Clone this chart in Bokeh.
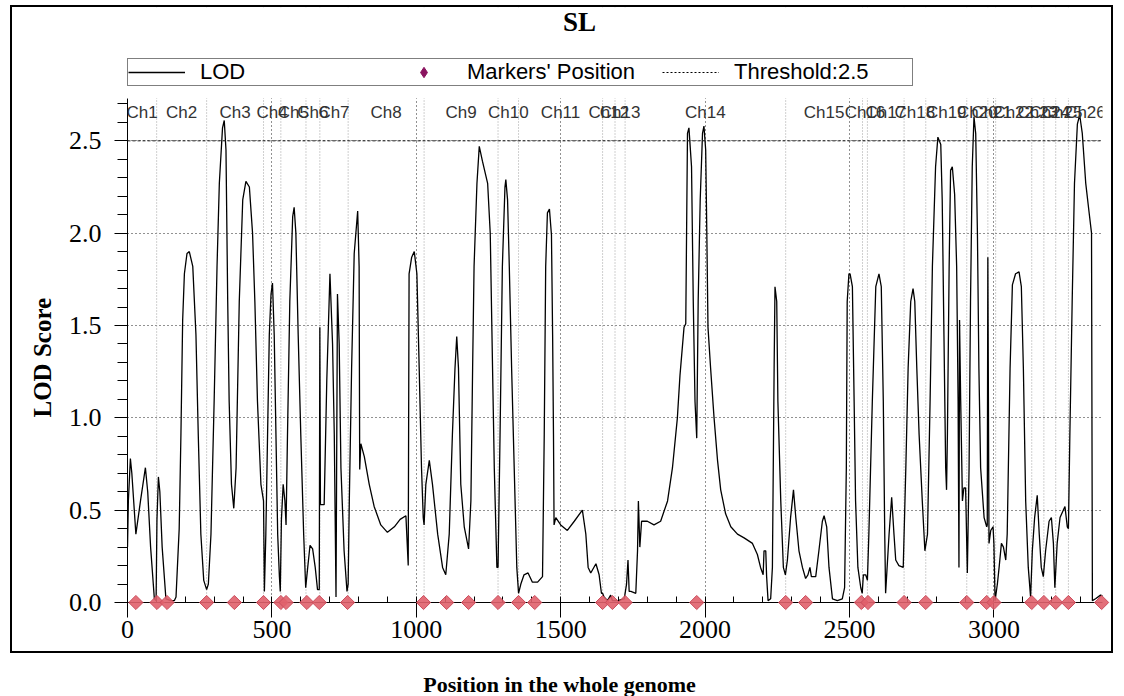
import math
from bokeh.plotting import figure
from bokeh.layouts import column
from bokeh.core.properties import value
from bokeh.models import (Span, Label, LabelSet, ColumnDataSource, Legend, BoxAnnotation, Title,
                          LegendItem, SingleIntervalTicker, PrintfTickFormatter, Range1d)
from bokeh.embed import file_html
from bokeh.resources import INLINE

# ---------------- data ----------------
lod_pos = [0, 3, 10, 15, 29, 45, 62, 70, 80, 93, 99, 102, 107, 112, 120, 133, 150, 162, 168, 179,
           185, 191, 197, 206, 214, 226, 237, 245, 254, 264, 274, 280, 289, 300, 310, 318, 329, 335,
           341, 347, 352, 360, 368, 376, 387, 399, 410, 422, 433, 441, 450, 462, 471, 474, 479, 485,
           491, 497, 502, 508, 514, 520, 526, 529, 533, 539, 545, 549, 554, 562, 572, 577, 583, 591,
           600, 610, 617, 624, 632, 641, 650, 658, 664, 666, 668, 681, 690, 701, 710, 716, 722, 727,
           733, 739, 750, 760, 764, 768, 776, 785, 797, 802, 804, 808, 820, 837, 854, 877, 900, 924,
           944, 964, 972, 975, 984, 993, 1002, 1010, 1018, 1024, 1027, 1033, 1045, 1056, 1074, 1091,
           1102, 1114, 1125, 1134, 1140, 1146, 1154, 1166, 1181, 1189, 1195, 1200, 1210, 1218, 1229,
           1247, 1256, 1264, 1270, 1279, 1283, 1290, 1298, 1307, 1310, 1316, 1322, 1330, 1339, 1348,
           1354, 1362, 1373, 1387, 1402, 1420, 1437, 1443, 1448, 1454, 1461, 1468, 1472, 1475, 1477,
           1483, 1500, 1523, 1547, 1575, 1587, 1595, 1604, 1622, 1633, 1641, 1645, 1650, 1662, 1673,
           1679, 1697, 1720, 1728, 1733, 1737, 1743, 1760, 1766, 1769, 1774, 1780, 1800, 1823, 1846,
           1870, 1887, 1904, 1913, 1927, 1933, 1939, 1944, 1953, 1959, 1965, 1971, 1976, 1983, 1991,
           1996, 2002, 2006, 2010, 2019, 2031, 2043, 2054, 2071, 2089, 2112, 2135, 2164, 2181, 2192,
           2201, 2204, 2210, 2213, 2218, 2227, 2233, 2239, 2242, 2248, 2252, 2262, 2271, 2278, 2285,
           2296, 2306, 2314, 2325, 2337, 2348, 2356, 2363, 2368, 2383, 2394, 2406, 2412, 2421, 2429,
           2441, 2458, 2475, 2483, 2489, 2492, 2498, 2502, 2510, 2516, 2521, 2529, 2539, 2544, 2548,
           2556, 2562, 2567, 2579, 2591, 2602, 2610, 2617, 2622, 2625, 2637, 2646, 2654, 2660, 2671,
           2686, 2695, 2703, 2712, 2720, 2726, 2733, 2741, 2752, 2761, 2770, 2779, 2787, 2798, 2806,
           2816, 2821, 2827, 2833, 2836, 2839, 2845, 2850, 2856, 2864, 2871, 2876, 2879, 2881, 2885,
           2891, 2896, 2902, 2908, 2914, 2919, 2925, 2931, 2937, 2943, 2948, 2954, 2966, 2975, 2977,
           2979, 2983, 2989, 2997, 3000, 3004, 3012, 3018, 3026, 3033, 3041, 3046, 3056, 3064, 3075,
           3087, 3095, 3102, 3110, 3119, 3127, 3133, 3141, 3150, 3157, 3164, 3171, 3179, 3191, 3199,
           3206, 3211, 3219, 3229, 3246, 3254, 3258, 3263, 3271, 3279, 3289, 3297, 3306, 3318, 3329,
           3338, 3341, 3352, 3369, 3387]
lod_val = [0.30, 0.55, 0.78, 0.70, 0.37, 0.55, 0.73, 0.60, 0.30, 0.02, 0.01, 0.45, 0.68, 0.60, 0.30,
           0.02, 0.01, 0.01, 0.03, 0.40, 0.91, 1.53, 1.78, 1.89, 1.90, 1.82, 1.45, 0.91, 0.37, 0.12,
           0.07, 0.10, 0.37, 1.09, 1.82, 2.27, 2.57, 2.61, 2.45, 1.63, 1.09, 0.64, 0.51, 0.73, 1.63,
           2.18, 2.28, 2.25, 2.00, 1.63, 1.09, 0.64, 0.55, 0.06, 0.37, 0.91, 1.45, 1.67, 1.73, 1.45,
           0.91, 0.37, 0.14, 0.06, 0.45, 0.64, 0.55, 0.42, 0.91, 1.63, 2.09, 2.14, 2.00, 1.45, 0.91,
           0.37, 0.08, 0.19, 0.31, 0.29, 0.19, 0.07, 0.07, 1.49, 0.53, 0.53, 1.20, 1.78, 1.40, 0.91,
           0.03, 1.67, 1.40, 0.73, 0.28, 0.06, 0.10, 0.55, 1.27, 1.89, 2.12, 1.82, 0.72, 0.86, 0.79,
           0.64, 0.52, 0.42, 0.38, 0.41, 0.45, 0.47, 0.20, 1.78, 1.87, 1.90, 1.78, 1.27, 0.73, 0.46,
           0.42, 0.64, 0.77, 0.64, 0.37, 0.19, 0.15, 0.37, 0.91, 1.27, 1.44, 1.27, 0.64, 0.41, 0.29,
           0.55, 1.27, 1.82, 2.27, 2.47, 2.39, 2.27, 2.00, 1.27, 0.73, 0.19, 0.19, 0.91, 1.82, 2.25,
           2.29, 2.18, 1.82, 1.27, 0.73, 0.19, 0.05, 0.10, 0.15, 0.16, 0.11, 0.11, 0.14, 0.91, 1.82,
           2.11, 2.13, 1.99, 1.45, 0.91, 0.42, 0.46, 0.42, 0.39, 0.44, 0.50, 0.37, 0.19, 0.16, 0.21,
           0.15, 0.05, 0.05, 0.03, 0.01, 0.04, 0.01, 0.01, 0.02, 0.10, 0.23, 0.06, 0.06, 0.05, 0.28,
           0.55, 0.30, 0.44, 0.44, 0.42, 0.44, 0.55, 0.73, 1.00, 1.23, 1.49, 1.51, 2.54, 2.57, 2.36,
           1.63, 1.09, 0.89, 1.63, 2.18, 2.54, 2.58, 2.45, 1.99, 1.49, 1.27, 1.00, 0.77, 0.61, 0.48,
           0.41, 0.37, 0.35, 0.32, 0.26, 0.19, 0.15, 0.28, 0.28, 0.14, 0.01, 0.02, 0.19, 1.27, 1.71,
           1.63, 1.09, 0.55, 0.19, 0.15, 0.23, 0.46, 0.61, 0.46, 0.28, 0.19, 0.13, 0.15, 0.19, 0.14,
           0.14, 0.28, 0.44, 0.47, 0.41, 0.19, 0.02, 0.01, 0.02, 0.08, 0.73, 1.63, 1.78, 1.78, 1.71,
           1.09, 0.55, 0.19, 0.08, 0.05, 0.15, 0.15, 0.12, 0.37, 1.09, 1.71, 1.78, 1.71, 1.09, 0.37,
           0.05, 0.37, 0.57, 0.37, 0.23, 0.20, 0.19, 0.73, 1.27, 1.63, 1.70, 1.63, 1.27, 0.91, 0.55,
           0.28, 0.37, 1.09, 1.82, 2.36, 2.52, 2.48, 2.18, 1.45, 0.73, 0.61, 0.91, 1.82, 2.34, 2.36,
           2.21, 1.82, 1.09, 0.19, 1.53, 1.09, 0.55, 0.62, 0.62, 0.16, 0.73, 1.63, 2.36, 2.63, 2.54,
           1.99, 1.27, 0.73, 0.46, 0.41, 0.42, 1.87, 0.32, 0.39, 0.41, 0.32, 0.01, 0.10, 0.19, 0.32,
           0.30, 0.23, 0.37, 1.27, 1.72, 1.78, 1.79, 1.71, 1.27, 0.55, 0.19, 0.03, 0.28, 0.46, 0.58,
           0.37, 0.19, 0.14, 0.28, 0.44, 0.46, 0.32, 0.08, 0.32, 0.46, 0.52, 0.41, 0.40, 0.91, 1.63,
           2.27, 2.59, 2.64, 2.54, 2.27, 2.12, 2.00, 0.01, 0.02, 0.04, 0.03]

marker_pos = [29, 102, 137, 274, 370, 471, 531, 549, 621, 664, 762,
              1025, 1105, 1181, 1283, 1354, 1410, 1645, 1679, 1723,
              1971, 2279, 2348, 2541, 2564,
              2689, 2764, 2906, 2975, 3000, 3131, 3173, 3214, 3258, 3373]

chrom_names = ["Ch1", "Ch2", "Ch3", "Ch4", "Ch5", "Ch6", "Ch7", "Ch8", "Ch9", "Ch10", "Ch11",
               "Ch12", "Ch13", "Ch14", "Ch15", "Ch16", "Ch17", "Ch18", "Ch19", "Ch20", "Ch21",
               "Ch22", "Ch23", "Ch24", "Ch25", "Ch26"]
chrom_bounds = [0, 101, 274, 471, 531, 618, 666, 764, 1027, 1283, 1354, 1645, 1688, 1723, 2279,
                2545, 2562, 2689, 2764, 2906, 2979, 3006, 3131, 3173, 3214, 3258, 3376]

threshold = 2.5
x_tick_step = 500
y_tick_step = 0.5
y_plot_top = 2.73      # top of the plotting area
y_canvas_top = 3.222   # top of the boxed panel (title and legend live above y_plot_top)
nan = float("nan")

# ---------------- main (boxed) figure ----------------
p = figure(width=1099, height=644, title=None, output_backend="svg", toolbar_location=None,
           x_range=Range1d(0, chrom_bounds[-1]), y_range=Range1d(0, y_canvas_top),
           min_border_left=115, min_border_right=13, min_border_top=0, min_border_bottom=53)
p.margin = (5, 0, 0, 10)
p.styles = {"border": "2px solid black", "box-sizing": "content-box"}
p.background_fill_color = "white"
p.border_fill_color = "white"
p.outline_line_color = None

xt = SingleIntervalTicker(interval=x_tick_step, num_minor_ticks=5)
yt = SingleIntervalTicker(interval=y_tick_step, num_minor_ticks=5)
xax = p.xaxis[0]
yax = p.yaxis[0]
xax.ticker = xt
yax.ticker = yt
p.xgrid.ticker = xt
p.ygrid.ticker = yt
p.grid.grid_line_color = "#222222"
p.grid.grid_line_dash = "1 3"
p.grid.grid_line_width = 1

xax.axis_line_color = "black"
xax.major_tick_line_color = "black"
xax.minor_tick_line_color = "black"
xax.major_tick_in = 4
xax.major_tick_out = 15
xax.minor_tick_in = 6
xax.minor_tick_out = 0
xax.major_label_standoff = 3
xax.major_label_text_font = "Liberation Serif"
xax.major_label_text_font_size = "26px"
xax.major_label_text_color = "black"

yax.bounds = (0, y_plot_top)
yax.formatter = PrintfTickFormatter(format="%.1f")
yax.axis_line_color = "black"
yax.major_tick_line_color = "black"
yax.minor_tick_line_color = "black"
yax.major_tick_in = 0
yax.major_tick_out = 13
yax.minor_tick_in = 0
yax.minor_tick_out = 10
yax.major_label_standoff = 13
yax.major_label_text_font = "Liberation Serif"
yax.major_label_text_font_size = "26px"
yax.major_label_text_color = "black"

# y axis title as a side title (so it can sit lower than the frame centre)
p.add_layout(Title(text="LOD Score", align="left", offset=185, standoff=19,
                   text_font="Liberation Serif", text_font_style="bold",
                   text_font_size="25px", text_color="black"), "left")

# chromosome boundary lines
for b in chrom_bounds[1:-1]:
    p.add_layout(Span(location=b, dimension="height", line_color="#a0a0a0",
                      line_dash="1 2", line_width=1, level="underlay"))

# LOD curve
lod_r = p.line(lod_pos, lod_val, line_color="black", line_width=1.3)

# blank strip above the plotting area (title / legend zone)
p.add_layout(BoxAnnotation(bottom=y_plot_top, fill_color="white", fill_alpha=1.0,
                           line_color=None))

# threshold
p.add_layout(Span(location=threshold, dimension="width", line_color="#222222",
                  line_dash="3 2", line_width=1))

# markers on the axis
mk_r = p.scatter(marker_pos, [0] * len(marker_pos), marker="square", angle=math.pi / 4,
                 size=10, fill_color="#E0606C", line_color="#CC4C5C", fill_alpha=0.9)
mk_r.level = "overlay"

# legend-only renderers (not drawn in the plot: NaN data)
mk_leg = p.scatter(x=[nan], y=[nan], marker="diamond", size=10,
                   fill_color="#8B1460", line_color="#8B1460")
th_leg = p.line(x=[nan, nan], y=[nan, nan], line_color="black", line_dash="2 2", line_width=1)

legend = Legend(items=[LegendItem(label="LOD", renderers=[lod_r]),
                       LegendItem(label="Markers' Position", renderers=[mk_leg]),
                       LegendItem(label="Threshold:%s" % threshold, renderers=[th_leg])],
                orientation="horizontal", location=(0, 516),
                border_line_color="black", border_line_width=1,
                background_fill_color="white", background_fill_alpha=1.0,
                padding=0, spacing=17, margin=0, glyph_width=57, glyph_height=26,
                label_standoff=15, label_width=178, label_height=20,
                label_text_font="Liberation Sans", label_text_font_size="22px",
                label_text_color="black")
p.add_layout(legend)

# chromosome labels (centred on each chromosome)
mids = [(chrom_bounds[i] + chrom_bounds[i + 1]) / 2 for i in range(len(chrom_names))]
src = ColumnDataSource(dict(x=mids, name=chrom_names))
p.add_layout(LabelSet(x="x", y=490, y_units="screen", text="name", source=src,
                      text_align="center", text_baseline="middle",
                      text_font=value("Liberation Sans"), text_font_size=value("17px"),
                      text_color="#333333"))

# title
p.add_layout(Label(x=452, y=581, x_units="screen", y_units="screen", text="SL",
                   text_font="Liberation Serif", text_font_style="bold",
                   text_font_size="27px", text_align="center", text_baseline="middle",
                   text_color="black"))

# ---------------- x axis title strip ----------------
px = figure(width=1113, height=43, output_backend="svg", toolbar_location=None, title=None,
            x_range=Range1d(0, 1), y_range=Range1d(0, 1),
            x_axis_location=None, y_axis_location=None, min_border=0)
px.outline_line_color = None
px.xgrid.visible = False
px.ygrid.visible = False
px.add_layout(Label(x=444, y=12, x_units="screen", y_units="screen",
                    text="Position in the whole genome",
                    text_font="Liberation Serif", text_font_style="bold",
                    text_font_size="22px", text_align="center", text_baseline="middle",
                    text_color="black"))

layout = column(p, px, spacing=0)
open("out.html", "w").write(file_html(layout, INLINE))
